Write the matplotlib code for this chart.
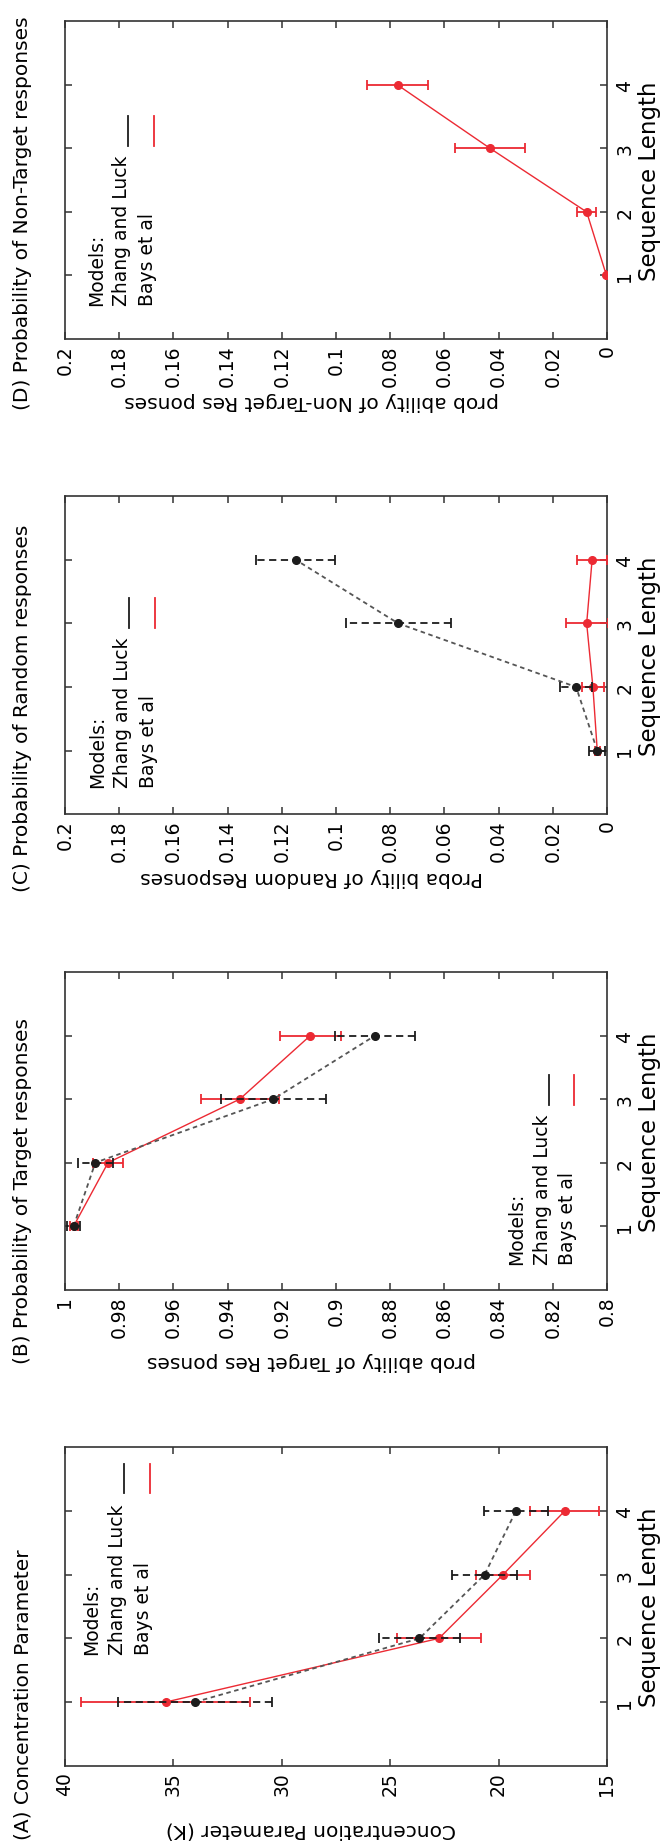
import matplotlib.pyplot as plt
from matplotlib.lines import Line2D

# sequence lengths shown on every panel
seq_len = [1, 2, 3, 4]

# (A) concentration parameter
conc_zl = [34.0, 23.65, 20.65, 19.2]
conc_zl_err = [3.55, 1.85, 1.5, 1.47]
conc_bays = [35.35, 22.75, 19.8, 16.95]
conc_bays_err = [3.9, 1.95, 1.25, 1.6]
conc_ticks = [40, 35, 30, 25, 20, 15]

# (B) probability of target responses
target_zl = [0.9968, 0.9888, 0.9231, 0.8856]
target_zl_err = [0.0023, 0.0064, 0.0195, 0.0147]
target_bays = [0.9968, 0.9841, 0.9355, 0.9095]
target_bays_err = [0.0015, 0.0056, 0.0145, 0.0112]
target_ticks = [1, 0.98, 0.96, 0.94, 0.92, 0.9, 0.88, 0.86, 0.84, 0.82, 0.8]

# (C) probability of random responses
random_zl = [0.0036, 0.0114, 0.077, 0.1148]
random_zl_err = [0.003, 0.006, 0.0194, 0.0146]
random_bays = [0.0036, 0.0052, 0.0075, 0.0055]
random_bays_err = [0.001, 0.004, 0.0078, 0.0056]
prob_ticks = [0.2, 0.18, 0.16, 0.14, 0.12, 0.1, 0.08, 0.06, 0.04, 0.02, 0]

# (D) probability of non-target responses (Bays et al only)
nontarget_bays = [0.0002, 0.0075, 0.0431, 0.0773]
nontarget_bays_err = [0.0, 0.0035, 0.013, 0.0112]

titles = ["(A) Concentration Parameter",
          "(B) Probability of Target responses",
          "(C) Probability of Random responses",
          "(D) Probability of Non-Target responses"]
value_labels = ["Concentration Parameter (K)",
                "prob ability of Target Res ponses",
                "Proba bility of Random Responses",
                "prob ability of Non-Target Res ponses"]

RED = '#ec2a33'
BLACK = '#1c1c1c'
FRAME = '#333333'

plt.rcParams['font.family'] = ['DejaVu Sans']

fig = plt.figure(figsize=(6.64, 18.49), dpi=100)


def draw_panel(rect, lim, ticks, zl, zl_err, bays, bays_err, title, label,
               title_y, label_y, legend_x, legend_y, key_y):
    ax = fig.add_axes(rect)

    # Bays et al: solid red line with error bars
    ax.errorbar(bays, seq_len, xerr=bays_err, fmt='o-', color=RED, lw=1.0,
                ms=5.5, elinewidth=1.3, capsize=3.5, capthick=1.3, zorder=3)

    # Zhang and Luck: dashed black
    if zl is not None:
        ax.plot(zl, seq_len, color='#555555', lw=1.3, ls=(0, (2.5, 2)), zorder=4)
        eb = ax.errorbar(zl, seq_len, xerr=zl_err, fmt='o', color=BLACK,
                         ms=5.5, elinewidth=1.3, capsize=3.5, capthick=1.3,
                         zorder=5)
        eb.lines[2][0].set_linestyle((0, (4, 2.5)))

    ax.set_xlim(lim)
    ax.set_ylim(0, 5)
    ax.set_xticks(ticks)
    ax.set_xticklabels([f"{t:g}" for t in ticks], rotation=90)
    ax.set_yticks(seq_len)
    ax.set_yticklabels([str(s) for s in seq_len], rotation=90, va='center')

    ax.tick_params(axis='both', direction='in', length=5, width=1.1,
                   color=FRAME, labelsize=13.5, top=True, right=True,
                   labelleft=False, labelright=True)
    ax.tick_params(axis='x', pad=4)
    ax.tick_params(axis='y', pad=6)
    for sp in ax.spines.values():
        sp.set_color(FRAME)
        sp.set_linewidth(1.2)

    ax.set_xlabel(label, fontsize=14.5, rotation=180, va='center')
    ax.xaxis.set_label_coords(0.454, label_y)
    ax.yaxis.set_label_position('right')
    ax.set_ylabel('Sequence Length', fontsize=16.5, rotation=90,
                  ha='center', va='center')
    ax.yaxis.set_label_coords(1.079, 0.5)

    # key, written sideways like the rest of the panel
    names = ['Models:', 'Zhang and Luck', 'Bays et al']
    for i, name in enumerate(names):
        ax.text(legend_x + i * 0.047, legend_y, name, rotation=90,
                transform=ax.transAxes, fontsize=13.5, ha='center', va='bottom')
    for i, c in enumerate([BLACK, RED]):
        x = legend_x + (i + 1) * 0.047 + 0.012
        ax.add_line(Line2D([x, x], key_y, color=c, lw=1.3,
                           transform=ax.transAxes))

    fig.text(0.0346, title_y, title, rotation=90, fontsize=14.5,
             ha='center', va='bottom')
    return ax


left, width = 65 / 664, 542 / 664

draw_panel([left, 0.0445, width, 0.1722], (40, 15), conc_ticks,
           conc_zl, conc_zl_err, conc_bays, conc_bays_err,
           titles[0], value_labels[0], 0.0049, -0.198,
           0.050, 0.352, (0.855, 0.947))

draw_panel([left, 0.3020, width, 0.1717], (1, 0.8), target_ticks,
           target_zl, target_zl_err, target_bays, target_bays_err,
           titles[1], value_labels[1], 0.2623, -0.224,
           0.834, 0.082, (0.581, 0.676))

draw_panel([left, 0.5592, width, 0.1718], (0.2, 0), prob_ticks,
           random_zl, random_zl_err, random_bays, random_bays_err,
           titles[2], value_labels[2], 0.5176, -0.198,
           0.060, 0.085, (0.585, 0.68))

draw_panel([left, 0.8161, width, 0.1718], (0.2, 0), prob_ticks,
           None, None, nontarget_bays, nontarget_bays_err,
           titles[3], value_labels[3], 0.7783, -0.195,
           0.058, 0.107, (0.608, 0.703))

fig.savefig('out.png', dpi=100)
